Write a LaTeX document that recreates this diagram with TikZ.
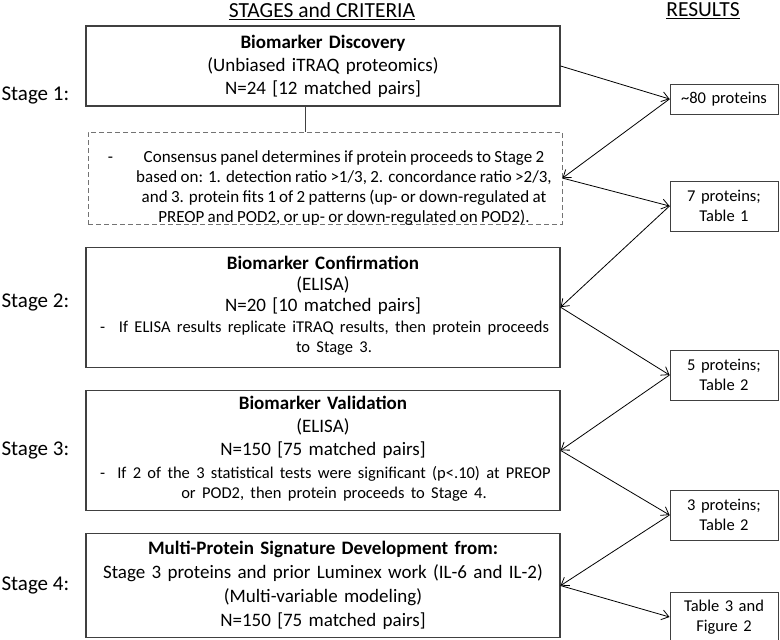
\documentclass[tikz,border=0pt]{standalone}
\usepackage{fontspec}
\setmainfont{Carlito}
\usepackage{tikz}
\usetikzlibrary{positioning, arrows.meta}
\tikzstyle{stagebox}=[rectangle, draw=black!75, line width=1.2pt, text width=466pt, inner sep=4pt, align=center, font=\fontsize{19}{23}\selectfont]
\tikzstyle{critbox}=[rectangle, draw=black!55, line width=1pt, dash pattern=on 5pt off 3pt, text width=466pt, inner sep=4pt, align=center, minimum height=92pt]
\tikzstyle{result}=[rectangle, draw=black!75, line width=1pt, text width=100pt, inner sep=4pt, align=center, font=\fontsize{16.5}{19.5}\selectfont]
\tikzstyle{stagelabel}=[font=\fontsize{21}{25}\selectfont, inner sep=0pt]
\tikzstyle{heading}=[font=\fontsize{21.5}{26}\selectfont, inner sep=0pt]
\tikzstyle{arrow}=[line width=0.8pt, -{Straight Barb[length=7pt,width=10pt]}]
\newcommand{\critline}[3][16.5]{{\fontsize{#1}{20}\selectfont\makebox[22pt][l]{-}\makebox[#2]{\begin{tabular}[t]{@{}c@{}}#3\end{tabular}}}}

\begin{document}
\begin{tikzpicture}[x=1pt, y=-1pt]
		\useasboundingbox (0,0) rectangle (780,640);
		\node (hstages) [heading] at (322,11) {\underline{STAGES and CRITERIA}};
		\node (hresults) [heading] at (703,11) {\underline{RESULTS}};
		
		\node (disc) [stagebox, minimum height=80pt] at (323,66) {\textbf{Biomarker Discovery}\\(Unbiased iTRAQ proteomics)\\N=24 [12 matched pairs]};
		\node (cons) [critbox, below=25pt of disc, xshift=2pt] {\raisebox{16pt}[0pt][0pt]{\hspace*{16pt}\critline[17]{428pt}{Consensus panel determines if protein proceeds to Stage 2\\based on: 1. detection ratio >1/3, 2. concordance ratio >2/3,\\and 3. protein fits 1 of 2 patterns (up- or down-regulated at\\PREOP and POD2, or up- or down-regulated on POD2).}}};
		\node (conf) [stagebox, minimum height=120pt, below=22pt of cons, xshift=-2pt, font=\fontsize{19}{21}\selectfont] {\textbf{Biomarker Confirmation}\\(ELISA)\\N=20 [10 matched pairs]\\\critline{424pt}{If ELISA results replicate iTRAQ results, then protein proceeds\\to Stage 3.}};
		\node (valid) [stagebox, minimum height=120pt, below=22pt of conf] {\textbf{Biomarker Validation}\\(ELISA)\\N=150 [75 matched pairs]\\\critline{424pt}{If 2 of the 3 statistical tests were significant (p<.10) at PREOP\\or POD2, then protein proceeds to Stage 4.}};
		\node (sig) [stagebox, minimum height=104pt, below=22pt of valid, font=\fontsize{19}{24}\selectfont] {\textbf{Multi-Protein Signature Development from:}\\Stage 3 proteins and prior Luminex work (IL-6 and IL-2)\\(Multi-variable modeling)\\N=150 [75 matched pairs]};
		
		\node (st1) [stagelabel, left=16pt of disc, yshift=-29pt] {Stage 1:};
		\node (st2) [stagelabel, left=16pt of conf, yshift=5pt] {Stage 2:};
		\node (st3) [stagelabel, left=16pt of valid] {Stage 3:};
		\node (st4) [stagelabel, left=16pt of sig] {Stage 4:};
		
		\node (r1) [result, minimum height=30pt] at (724,99) {\textasciitilde80 proteins};
		\node (r2) [result, minimum height=50pt, below=66pt of r1] {7 proteins;\\Table 1};
		\node (r3) [result, minimum height=50pt, below=118pt of r2] {5 proteins;\\Table 2};
		\node (r4) [result, minimum height=50pt, below=89pt of r3] {3 proteins;\\Table 2};
		\node (r5) [result, minimum height=50pt, below=51pt of r4] {Table 3 and\\Figure 2};
		
		\draw[line width=1pt, black!75] ([xshift=-18pt]disc.south) -- ([xshift=-18pt]disc.south |- cons.north);
		\draw[arrow] (disc.east) -- (r1.west);
		\draw[arrow] (r1.west) -- (cons.east);
		\draw[arrow] (cons.east) -- (r2.west);
		\draw[arrow] (r2.west) -- (conf.east);
		\draw[arrow] (conf.east) -- (r3.west);
		\draw[arrow] (r3.west) -- (valid.east);
		\draw[arrow] (valid.east) -- (r4.west);
		\draw[arrow] (r4.west) -- (sig.east);
		\draw[arrow] (sig.east) -- (r5.west);
	\end{tikzpicture}
\end{document}
